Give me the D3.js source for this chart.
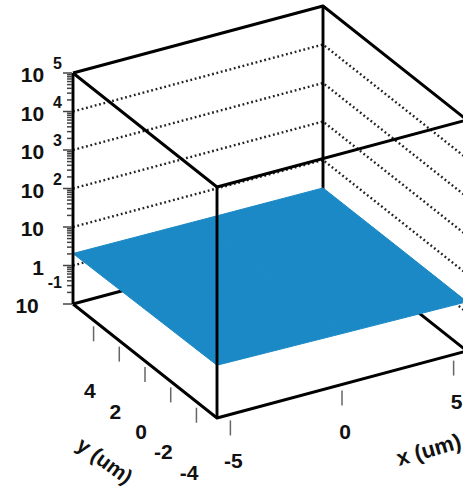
<!DOCTYPE html>
<html>
<head>
<meta charset="utf-8">
<script src="https://cdn.jsdelivr.net/npm/d3@7"></script>
<style>
  html, body { margin: 0; padding: 0; background: #fff; overflow: hidden; }
  text { font-family: "Liberation Sans", Arial, Helvetica, sans-serif; font-weight: bold; fill: #111; }
</style>
</head>
<body>
<svg id="chart" width="463" height="491"></svg>
<script>
// Surface grid: z values sampled on an (x, y) lattice, rows follow yGrid, columns follow xGrid
const xGrid = [-5.6, 0, 5.6];
const yGrid = [-5.6, 0, 5.6];
const zGrid = [
  [2.35, 2.1, 1.9],
  [2.2, 2.05, 1.9],
  [2.05, 1.95, 1.88]
];
const xTicks = [-5, 0, 5];
const yTicks = [-4, -2, 0, 2, 4];
const zExponents = [-1, 0, 1, 2, 3, 4, 5];
const xTitle = "x (um)";
const yTitle = "y (um)";

const svg = d3.select("#chart");
svg.append("rect").attr("width", 463).attr("height", 491).attr("fill", "#fff");

// Oblique projection of the plot box
const origin = { x: 217, y: 418 };     // corner (xmin, ymin, zmin)
const ex = { x: 250, y: -67 };         // full x extent on screen
const ey = { x: -144, y: -114 };       // full y extent on screen
const ez = 231;                        // full z height on screen

const xs = d3.scaleLinear().domain(d3.extent(xGrid)).range([0, 1]);
const ys = d3.scaleLinear().domain(d3.extent(yGrid)).range([0, 1]);
const zs = d3.scaleLog().domain([Math.pow(10, d3.min(zExponents)), Math.pow(10, d3.max(zExponents))]).range([0, 1]);

const [x0, x1] = xs.domain();
const [y0, y1] = ys.domain();
const [z0, z1] = zs.domain();

function P(x, y, z) {
  const u = xs(x), v = ys(y), w = zs(z);
  return [origin.x + u * ex.x + v * ey.x, origin.y + u * ex.y + v * ey.y - w * ez];
}
const line = d3.line();

// Dotted grid on the two back walls
const grid = svg.append("g").attr("fill", "none").attr("stroke", "#222")
  .attr("stroke-width", 2.4).attr("stroke-dasharray", "1.8 2.7");
zExponents.slice(1, -1).forEach(e => {
  const z = Math.pow(10, e);
  grid.append("path").attr("d", line([P(x0, y1, z), P(x1, y1, z), P(x1, y0, z)]));
});

const frame = (g, pts) => g.append("path").attr("d", line(pts));

// Hidden edges of the box (behind the surface)
const back = svg.append("g").attr("fill", "none").attr("stroke", "#000")
  .attr("stroke-width", 2.9).attr("stroke-linejoin", "round");
frame(back, [P(x0, y1, z0), P(x1, y1, z0), P(x1, y0, z0)]);
frame(back, [P(x1, y1, z0), P(x1, y1, z1)]);

// Surface cells
const surf = svg.append("g");
for (let j = 0; j < yGrid.length - 1; j++) {
  for (let i = 0; i < xGrid.length - 1; i++) {
    const pts = [
      P(xGrid[i], yGrid[j], zGrid[j][i]),
      P(xGrid[i + 1], yGrid[j], zGrid[j][i + 1]),
      P(xGrid[i + 1], yGrid[j + 1], zGrid[j + 1][i + 1]),
      P(xGrid[i], yGrid[j + 1], zGrid[j + 1][i])
    ];
    surf.append("path").attr("d", line(pts) + "Z")
      .attr("fill", "#1a89c5").attr("stroke", "#1a89c5").attr("stroke-width", 1);
  }
}

// Front edges of the box
const front = svg.append("g").attr("fill", "none").attr("stroke", "#000")
  .attr("stroke-width", 2.9).attr("stroke-linejoin", "round");
frame(front, [P(x0, y1, z1), P(x1, y1, z1), P(x1, y0, z1), P(x0, y0, z1), P(x0, y1, z1)]);
frame(front, [P(x0, y1, z0), P(x0, y0, z0), P(x1, y0, z0)]);
frame(front, [P(x0, y1, z0), P(x0, y1, z1)]);
frame(front, [P(x0, y0, z0), P(x0, y0, z1)]);
frame(front, [P(x1, y0, z0), P(x1, y0, z1)]);

// Z axis (log): ticks to the left of the back-left vertical edge
const zt = svg.append("g").attr("stroke", "#444").attr("stroke-width", 1.5);
zs.ticks().forEach(z => {
  const [px, py] = P(x0, y1, z);
  const major = Math.abs(Math.log10(z) - Math.round(Math.log10(z))) < 1e-9;
  zt.append("line").attr("x1", px - (major ? 10 : 6)).attr("x2", px - 1)
    .attr("y1", py).attr("y2", py);
});
zExponents.forEach(e => {
  const [px, py] = P(x0, y1, Math.pow(10, e));
  if (e === 0 || e === 1) {
    svg.append("text").attr("x", 44).attr("y", py + 9).attr("text-anchor", "end")
      .attr("font-size", 21).text(e === 0 ? "1" : "10");
  } else {
    const t = svg.append("text").attr("x", 62).attr("y", py + 9).attr("text-anchor", "end")
      .attr("font-size", 21);
    t.append("tspan").text("10");
    t.append("tspan").attr("dx", 9).attr("dy", e < 0 ? -25 : -13)
      .attr("font-size", 16).text(String(e));
  }
});

// X axis ticks and labels
const xt = svg.append("g").attr("stroke", "#666").attr("stroke-width", 1.5);
xTicks.forEach(v => {
  const [px, py] = P(v, y0, z0);
  xt.append("line").attr("x1", px).attr("x2", px).attr("y1", py + 6).attr("y2", py + 21);
  svg.append("text").attr("x", px + 3).attr("y", py + 54).attr("text-anchor", "middle")
    .attr("font-size", 21).text(String(v));
});

// Y axis ticks and labels
const yt = svg.append("g").attr("stroke", "#666").attr("stroke-width", 1.5);
yTicks.forEach(v => {
  const [px, py] = P(x0, v, z0);
  yt.append("line").attr("x1", px).attr("x2", px).attr("y1", py + 6).attr("y2", py + 21);
  svg.append("text").attr("x", px + 2).attr("y", py + 78).attr("text-anchor", "end")
    .attr("font-size", 21).text(String(v));
});

// Axis titles
svg.append("text").attr("transform", "translate(75,448) rotate(36)")
  .attr("font-size", 21).text(yTitle);
svg.append("text").attr("transform", "translate(399,466) rotate(-16)")
  .attr("font-size", 22).text(xTitle);
</script>
</body>
</html>
